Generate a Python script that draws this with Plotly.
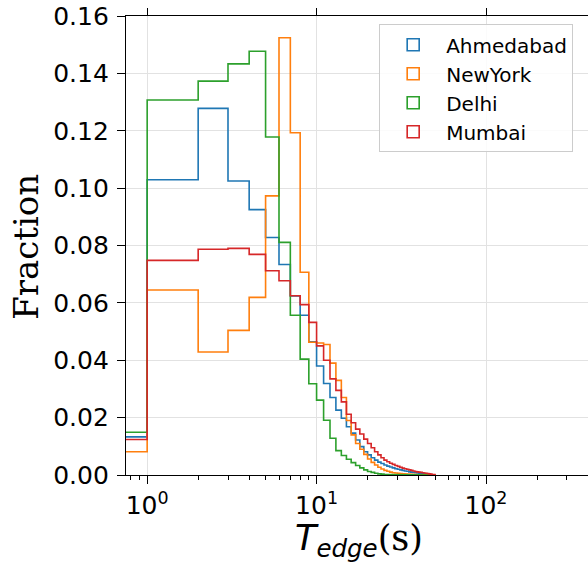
import numpy as np
import plotly.graph_objects as go

# ---------------- data (fraction of edges per 1-s bin: [0,1), [1,2), ...) ----------------
cities = ["Ahmedabad", "NewYork", "Delhi", "Mumbai"]
colors = ["#1f77b4", "#ff7f0e", "#2ca02c", "#d62728"]

ahmedabad = [0.0133, 0.1029, 0.1278, 0.1025, 0.0925, 0.0828, 0.0734, 0.0624, 0.0557, 0.0464,
             0.0380, 0.0319, 0.0270, 0.0226, 0.0198, 0.0168, 0.0146, 0.0122, 0.0099, 0.0081,
             0.0070, 0.0060, 0.0052, 0.0045, 0.0040, 0.0035, 0.0031, 0.0028, 0.0025, 0.0022,
             0.0020, 0.0018, 0.0016, 0.0014, 0.0013, 0.0011, 0.0010, 0.0009, 0.0008, 0.0007,
             0.0006, 0.0005, 0.0005, 0.0004, 0.0004, 0.0003, 0.0003, 0.0002, 0.0002, 0.0001]

newyork = [0.0081, 0.0645, 0.0429, 0.0504, 0.0619, 0.0973, 0.1524, 0.1193, 0.0707, 0.0463,
           0.0460, 0.0455, 0.0390, 0.0330, 0.0270, 0.0190, 0.0140, 0.0110, 0.0090, 0.0072,
           0.0056, 0.0044, 0.0035, 0.0027, 0.0021, 0.0016, 0.0013, 0.0010, 0.0008, 0.0007,
           0.0006, 0.0005, 0.0004, 0.0004, 0.0003, 0.0003, 0.0002, 0.0002, 0.0002, 0.0001,
           0.0001, 0.0001, 0.0001, 0.0001, 0.0001, 0.0001, 0.0001, 0.0001, 0.0001, 0.0001]

delhi = [0.0149, 0.1307, 0.1373, 0.1433, 0.1477, 0.1178, 0.0811, 0.0557, 0.0404, 0.0318,
         0.0261, 0.0191, 0.0128, 0.0085, 0.0068, 0.0055, 0.0043, 0.0033, 0.0025, 0.0018,
         0.0012, 0.0009, 0.0006, 0.0004, 0.0003, 0.0002, 0.0002, 0.0001, 0.0001, 0.0001,
         0.0001, 0.0001, 0.0000, 0.0000, 0.0000, 0.0000, 0.0000, 0.0000, 0.0000, 0.0000,
         0.0000, 0.0000, 0.0000, 0.0000, 0.0000, 0.0000, 0.0000, 0.0000, 0.0000, 0.0000]

mumbai = [0.0124, 0.0748, 0.0787, 0.0790, 0.0769, 0.0712, 0.0677, 0.0625, 0.0594, 0.0532,
          0.0450, 0.0400, 0.0335, 0.0295, 0.0255, 0.0212, 0.0182, 0.0160, 0.0143, 0.0125,
          0.0110, 0.0095, 0.0081, 0.0070, 0.0060, 0.0052, 0.0046, 0.0041, 0.0037, 0.0033,
          0.0030, 0.0027, 0.0024, 0.0022, 0.0020, 0.0018, 0.0016, 0.0014, 0.0012, 0.0011,
          0.0010, 0.0009, 0.0008, 0.0007, 0.0006, 0.0005, 0.0004, 0.0003, 0.0002, 0.0002]

series = [ahmedabad, newyork, delhi, mumbai]

x_ticks = [1, 10, 100]
x_ticktext = ["10<sup>0</sup>", "10<sup>1</sup>", "10<sup>2</sup>"]
y_ticks = [0.00, 0.02, 0.04, 0.06, 0.08, 0.10, 0.12, 0.14, 0.16]

# ---------------- geometry helpers ----------------
edges = np.arange(len(ahmedabad) + 1, dtype=float)
# first bin starts at 0, which lies off the left end of a log axis
edges_plot = np.where(edges > 0, edges, 0.5)


def step_outline(vals):
    xs, ys = [edges_plot[0]], [0.0]
    for i, v in enumerate(vals):
        xs += [edges_plot[i], edges_plot[i + 1]]
        ys += [v, v]
    xs.append(edges_plot[-1])
    ys.append(0.0)
    return xs, ys


fig = go.Figure()
for name, col, vals in zip(cities, colors, series):
    xs, ys = step_outline(vals)
    fig.add_trace(go.Scatter(x=xs, y=ys, mode="lines", line=dict(color=col, width=1.6),
                             name=name, showlegend=False, hoverinfo="skip"))

# legend entries as outlined boxes (like matplotlib step-histogram patches)
for name, col in zip(cities, colors):
    fig.add_trace(go.Bar(x=[None], y=[None], name=name,
                         marker=dict(color="rgba(255,255,255,0)", line=dict(color=col, width=1.6))))

# helper trace so the top (mirror) tick axis is drawn
fig.add_trace(go.Scatter(x=[1], y=[None], xaxis="x2", showlegend=False, hoverinfo="skip"))

minor_vals = [0.8, 0.9] + [m * d for d in (1, 10) for m in range(2, 10)] + [200, 300, 400]
x_range = [np.log10(0.75), np.log10(400)]

fig.update_layout(
    width=588, height=565,
    margin=dict(l=126, r=0, t=16, b=90, pad=0),
    plot_bgcolor="white", paper_bgcolor="white",
    font=dict(family="DejaVu Sans", color="black"),
    legend=dict(x=0.548, y=0.982, xanchor="left", yanchor="top",
                bgcolor="rgba(255,255,255,0.85)", bordercolor="#cccccc", borderwidth=1,
                font=dict(size=20, family="DejaVu Sans"), tracegroupgap=2, itemwidth=56),
    xaxis=dict(type="log", range=x_range, tickvals=x_ticks, ticktext=x_ticktext,
               ticks="outside", ticklen=8, tickwidth=1.3, tickcolor="black",
               showline=True, linecolor="black", linewidth=1.3, mirror=True,
               showgrid=True, gridcolor="#e2e2e2", gridwidth=1, zeroline=False,
               tickfont=dict(size=25, family="DejaVu Sans"),
               minor=dict(tickvals=minor_vals, ticks="outside", ticklen=4, tickwidth=1,
                          tickcolor="black", showgrid=False)),
    xaxis2=dict(type="log", range=x_range, overlaying="x", side="top", tickvals=x_ticks,
                ticks="outside", ticklen=7, tickwidth=1.3, tickcolor="black",
                showticklabels=False, showgrid=False, showline=False, zeroline=False),
    yaxis=dict(range=[0, 0.16], tickvals=y_ticks, tickformat=".2f",
               ticks="outside", ticklen=8, tickwidth=1.3, tickcolor="black",
               ticklabelstandoff=3,
               showline=True, linecolor="black", linewidth=1.3, mirror=False,
               showgrid=True, gridcolor="#e2e2e2", gridwidth=1, zeroline=False,
               tickfont=dict(size=25, family="DejaVu Sans")),
    annotations=[
        dict(text="Fraction", xref="paper", yref="paper", x=-0.2165, y=0.497,
             xanchor="center", yanchor="middle", textangle=-90, showarrow=False,
             font=dict(family="DejaVu Serif", size=34, color="black")),
        dict(text='<span style="font-family:DejaVu Sans"><i>T</i><sub><i>edge</i></sub></span>(s)',
             xref="paper", yref="paper", x=0.504, y=-0.142, xanchor="center", yanchor="middle",
             showarrow=False, font=dict(family="DejaVu Serif", size=35, color="black")),
    ],
)

fig.write_html("out.html")
